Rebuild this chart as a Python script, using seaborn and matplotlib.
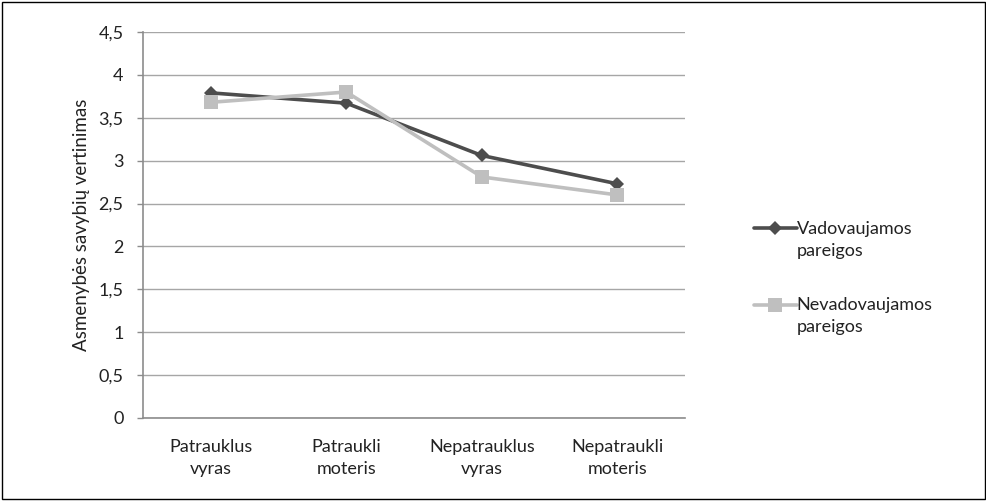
import matplotlib
matplotlib.use("Agg")
import matplotlib.pyplot as plt
import seaborn as sns
import pandas as pd
from matplotlib.lines import Line2D
from matplotlib.patches import Rectangle
from matplotlib.legend_handler import HandlerLine2D

categories = ["Patrauklus\nvyras", "Patraukli\nmoteris", "Nepatrauklus\nvyras", "Nepatraukli\nmoteris"]
vadovaujamos = [3.79, 3.67, 3.06, 2.73]
nevadovaujamos = [3.68, 3.80, 2.81, 2.60]
series_names = ["Vadovaujamos\npareigos", "Nevadovaujamos\npareigos"]
y_ticks = [0, 0.5, 1, 1.5, 2, 2.5, 3, 3.5, 4, 4.5]
y_tick_labels = ["0", "0,5", "1", "1,5", "2", "2,5", "3", "3,5", "4", "4,5"]

df = pd.DataFrame({
    "kategorija": categories * 2,
    "vertinimas": vadovaujamos + nevadovaujamos,
    "pareigos": [series_names[0]] * 4 + [series_names[1]] * 4,
})

sns.set_theme(style="white")
plt.rcParams["font.family"] = ["Lato", "DejaVu Sans"]

FS = 13
TXT = "#222222"
colors = {series_names[0]: "#4d4d4d", series_names[1]: "#bfbfbf"}
markers = {series_names[0]: "D", series_names[1]: "s"}
msizes = {series_names[0]: 7, series_names[1]: 10}

fig = plt.figure(figsize=(9.87, 5.01), dpi=100)
ax = fig.add_axes([0.1449, 0.1657, 0.5492, 0.7705])

for name in series_names:
    sub = df[df["pareigos"] == name]
    sns.lineplot(data=sub, x="kategorija", y="vertinimas", ax=ax, sort=False,
                 color=colors[name], linewidth=2.6, marker=markers[name],
                 markersize=msizes[name], markeredgewidth=0,
                 markerfacecolor=colors[name], legend=False)

ax.set_xlim(-0.5, 3.5)
ax.set_ylim(0, 4.5)
ax.set_yticks(y_ticks)
ax.set_yticklabels(y_tick_labels)
ax.set_xticks(range(len(categories)))
ax.set_xticklabels(categories, linespacing=1.5)
ax.set_xlabel("")
ax.set_ylabel("Asmenybės savybių vertinimas", fontsize=13.5, color=TXT, labelpad=6)

ax.grid(axis="y", color="#a6a6a6", linewidth=1)
ax.set_axisbelow(True)
for side in ["top", "right"]:
    ax.spines[side].set_visible(False)
for side in ["left", "bottom"]:
    ax.spines[side].set_color("#8c8c8c")
    ax.spines[side].set_linewidth(1.2)

ax.tick_params(axis="y", which="both", left=True, length=4, width=1, color="#8c8c8c",
               labelsize=FS, labelcolor=TXT, pad=10)
ax.tick_params(axis="x", bottom=False, labelsize=FS, labelcolor=TXT, pad=9)


class FirstLineHandler(HandlerLine2D):
    """Line handle aligned with the first line of a two-line legend label."""
    def create_artists(self, legend, orig_handle, xdescent, ydescent, width,
                       height, fontsize, trans):
        shift = fontsize * 1.3
        return super().create_artists(legend, orig_handle, xdescent,
                                      ydescent - shift, width, height,
                                      fontsize, trans)


handles = [
    Line2D([0], [0], color=colors[n], linewidth=2.6, marker=markers[n],
           markersize=msizes[n], markeredgewidth=0) for n in series_names
]
leg = fig.legend(handles, series_names, loc="center left", bbox_to_anchor=(0.747, 0.445),
                 frameon=False, fontsize=FS, handlelength=2.4, handletextpad=0.0,
                 labelspacing=2.15, labelcolor=TXT,
                 handler_map={Line2D: FirstLineHandler()})
for t in leg.get_texts():
    t.set_linespacing(1.45)

fig.patches.append(Rectangle((0.002, 0.003), 0.996, 0.994, transform=fig.transFigure,
                             fill=False, edgecolor="#000000", linewidth=1))

fig.savefig("out.png", dpi=100, facecolor="white")
